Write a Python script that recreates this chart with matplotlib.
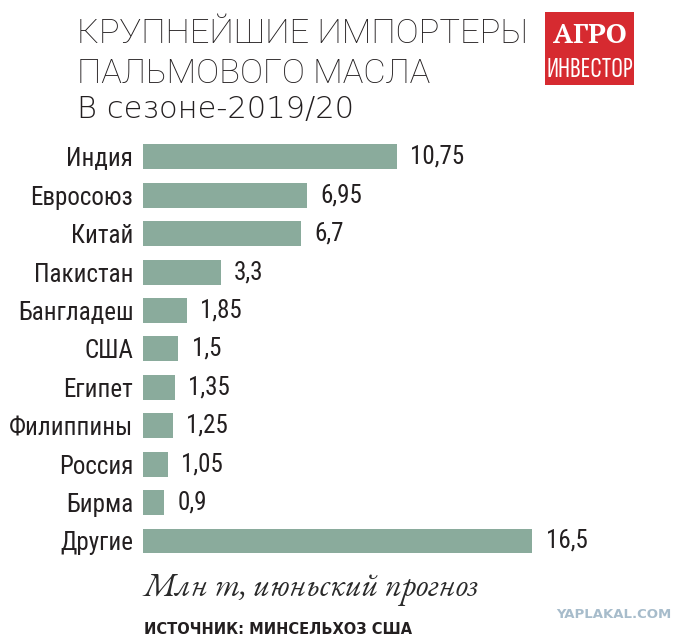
import matplotlib
matplotlib.use("Agg")
import matplotlib.pyplot as plt
from matplotlib.patches import Rectangle

categories = ["Индия", "Евросоюз", "Китай", "Пакистан", "Бангладеш", "США",
              "Египет", "Филиппины", "Россия", "Бирма", "Другие"]
values = [10.75, 6.95, 6.7, 3.3, 1.85, 1.5, 1.35, 1.25, 1.05, 0.9, 16.5]
value_labels = ["10,75", "6,95", "6,7", "3,3", "1,85", "1,5", "1,35", "1,25",
                "1,05", "0,9", "16,5"]

title_lines = ["КРУПНЕЙШИЕ ИМПОРТЕРЫ", "ПАЛЬМОВОГО МАСЛА"]
subtitle = "В сезоне-2019/20"
unit_note = "Млн т, июньский прогноз"
source = "ИСТОЧНИК: МИНСЕЛЬХОЗ США"
logo_top = "АГРО"
logo_bottom = "ИНВЕСТОР"
watermark = "YAPLAKAL.COM"

COND = ["Roboto Condensed", "DejaVu Sans"]
BAR_COLOR = "#8aab9c"
TXT = "#231f20"

W, H = 689, 642
fig = plt.figure(figsize=(W / 100, H / 100), dpi=100)
fig.patch.set_facecolor("white")

def fx(px):
    return px / W

def fy(py):
    return 1 - py / H

# axes geometry in pixels
ax_left, ax_right = 143, 615
ax_top, ax_bot = 137.7, 560.2
ax = fig.add_axes([fx(ax_left), fy(ax_bot), fx(ax_right - ax_left), (ax_bot - ax_top) / H])
px_per_unit = 23.6
ax.set_xlim(0, (ax_right - ax_left) / px_per_unit)
ypos = list(range(len(categories)))
ax.barh(ypos, values, height=0.65, color=BAR_COLOR, edgecolor="none")
ax.set_ylim(len(categories) - 0.5, -0.5)
ax.set_yticks(ypos)
ax.set_yticklabels(categories, family=COND, fontsize=18, color=TXT)
ax.tick_params(axis="y", length=0, pad=7)
ax.set_xticks([])
for s in ax.spines.values():
    s.set_visible(False)
for y, v, lab in zip(ypos, values, value_labels):
    ax.annotate(lab, (v, y), xytext=(9.5, 0), textcoords="offset points",
                va="center", ha="left", family=COND, fontsize=18, color=TXT)

# titles
fig.text(fx(77), fy(43), title_lines[0], family=["Roboto", "DejaVu Sans"], fontweight="light",
         fontsize=24.8, color=TXT, va="baseline")
fig.text(fx(77), fy(83), title_lines[1], family=["Roboto", "DejaVu Sans"], fontweight="light",
         fontsize=24.8, color=TXT, va="baseline")
fig.text(fx(77), fy(118), subtitle, family=["DejaVu Sans"], fontweight="light",
         fontsize=22, color=TXT, va="baseline")

# logo
fig.patches.append(Rectangle((fx(545), fy(85)), fx(89), 73 / H, transform=fig.transFigure,
                             facecolor="#d62a30", edgecolor="none"))
fig.text(fx(590), fy(43), logo_top, family="PT Serif", fontweight="bold",
         fontsize=20, color="white", ha="center", va="baseline")
fig.text(fx(590), fy(77), logo_bottom, family=["Sofia Sans Extra Condensed", "Roboto Condensed"],
         fontweight="bold", fontsize=21, color="white", ha="center", va="baseline")

fig.text(fx(144), fy(595.5), unit_note, family=["EB Garamond", "Liberation Serif"], style="italic",
         fontsize=23.3, color="#2a2a2a", va="baseline")
fig.text(fx(144), fy(633.5), source, family=["DejaVu Sans"], fontweight="bold",
         fontsize=10.5, color=TXT, va="baseline")
fig.text(fx(556), fy(618), watermark, family=["DejaVu Sans"], fontweight="bold",
         fontsize=9.5, color="#a7bccb", va="baseline")

fig.savefig("out.png", dpi=100, facecolor="white")
